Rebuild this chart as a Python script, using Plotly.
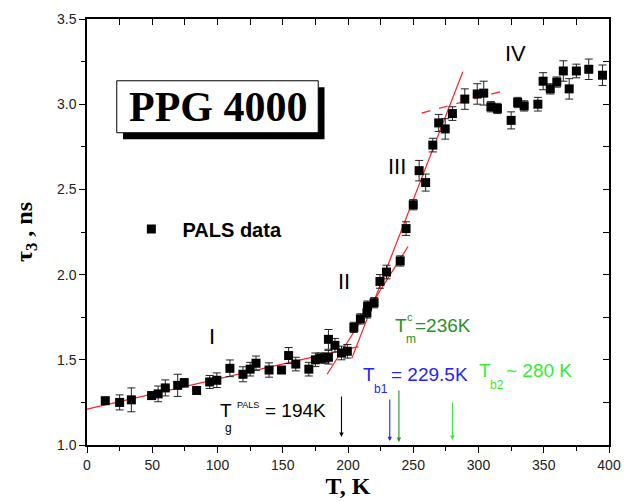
import plotly.graph_objects as go

# ---------------- data ----------------
temperature_K = [14, 25, 34, 49.5, 54.5, 60, 69.5, 74.5, 84, 94, 99.5, 109.5, 119.5, 125, 129.5,
                 139.5, 149, 154.5, 160, 170, 175, 179, 182.5, 185, 185, 190, 195, 199.5, 204.5,
                 209.5, 214.5, 215, 220, 224.5, 229.5, 240, 244.5, 250, 254.5, 259.5, 265, 269.5,
                 274.5, 280, 289.5, 299, 304, 309.5, 314.5, 325, 330, 335, 345.5, 349.5, 355,
                 360, 365, 369.5, 375, 384.5, 395]
tau3_ns = [1.26, 1.25, 1.265, 1.29, 1.30, 1.335, 1.35, 1.365, 1.32, 1.37, 1.38, 1.45, 1.415, 1.445,
           1.48, 1.44, 1.44, 1.525, 1.475, 1.445, 1.50, 1.51, 1.51, 1.515, 1.62, 1.585, 1.54, 1.55,
           1.69, 1.74, 1.775, 1.815, 1.835, 1.96, 2.015, 2.08, 2.27, 2.41, 2.61, 2.54, 2.76, 2.89,
           2.855, 2.945, 3.03, 3.06, 3.065, 2.985, 2.975, 2.905, 3.01, 2.99, 3.00, 3.135, 3.09,
           3.13, 3.195, 3.09, 3.195, 3.205, 3.17]
tau3_err = [0.02, 0.044, 0.07, 0.02, 0.046, 0.047, 0.065, 0.025, 0.0, 0.038, 0.043, 0.049, 0.044,
            0.04, 0.042, 0.042, 0.02, 0.047, 0.04, 0.04, 0.04, 0.03, 0.03, 0.04, 0.058, 0.04, 0.04,
            0.04, 0.03, 0.03, 0.03, 0.03, 0.03, 0.04, 0.04, 0.03, 0.04, 0.03, 0.06, 0.05, 0.04,
            0.05, 0.06, 0.04, 0.06, 0.06, 0.07, 0.03, 0.03, 0.05, 0.03, 0.03, 0.04, 0.05, 0.03,
            0.03, 0.06, 0.06, 0.04, 0.06, 0.06]

# linear fits (segment end points, T in K, tau in ns)
fit_I_T, fit_I_tau = [0, 208], [1.211, 1.577]
fit_II_T, fit_II_tau = [184, 246], [1.415, 2.165]
fit_III_T, fit_III_tau = [203, 288], [1.51, 3.19]
fit_IV_T, fit_IV_tau = [256.5, 318.5], [2.948, 3.077]

# characteristic temperatures (arrows)
arrow_T = [195, 232, 239, 280]
arrow_tail = [1.293, 1.276, 1.329, 1.258]
arrow_head = [1.047, 1.023, 1.018, 1.030]
arrow_colors = ["black", "#2323ff", "#2a8f2a", "#33ee33"]

region_labels = ["I", "II", "III", "IV"]
region_T = [95.8, 197, 237.5, 328.7]
region_tau = [1.634, 1.962, 2.636, 3.300]

x_ticks = [0, 50, 100, 150, 200, 250, 300, 350, 400]
y_ticks = [1.0, 1.5, 2.0, 2.5, 3.0, 3.5]

SANS = "Liberation Sans, Arial, sans-serif"
SERIF = "Liberation Serif, Times New Roman, serif"

fig = go.Figure()

for tx, ty, dash in [(fit_I_T, fit_I_tau, "solid"), (fit_II_T, fit_II_tau, "solid"),
                     (fit_III_T, fit_III_tau, "solid"), (fit_IV_T, fit_IV_tau, "dash")]:
    fig.add_trace(go.Scatter(x=tx, y=ty, mode="lines", showlegend=False, hoverinfo="skip",
                             line=dict(color="#ff2020", width=1.2, dash=dash)))

fig.add_trace(go.Scatter(
    x=temperature_K, y=tau3_ns, mode="markers", name="&nbsp;&nbsp;<b>PALS data</b>",
    marker=dict(symbol="square", size=9, color="black"),
    error_y=dict(type="data", array=tau3_err, visible=True, color="#222", thickness=1, width=4),
))

# empty trace to activate top/right mirror axes
fig.add_trace(go.Scatter(x=[], y=[], xaxis="x2", yaxis="y2", showlegend=False, hoverinfo="skip"))

annotations = []
for lab, t, v in zip(region_labels, region_T, region_tau):
    annotations.append(dict(x=t, y=v, text=lab, showarrow=False, xref="x", yref="y",
                            xanchor="center", yanchor="middle",
                            font=dict(family=SANS, size=22, color="black")))

for t, a0, a1, c in zip(arrow_T, arrow_tail, arrow_head, arrow_colors):
    annotations.append(dict(x=t, y=a1, ax=t, ay=a0, xref="x", yref="y", axref="x", ayref="y",
                            text="", showarrow=True, arrowhead=2, arrowsize=0.8,
                            arrowwidth=1.1, arrowcolor=c))


def piece(t, v, text, size, color):
    annotations.append(dict(x=t, y=v, text=text, showarrow=False, xref="x", yref="y",
                            xanchor="left", yanchor="middle", borderpad=0,
                            font=dict(family=SANS, size=size, color=color)))


# T_g^PALS = 194K
piece(101.0, 1.205, "T", 19, "black")
piece(105.0, 1.100, "g", 12, "black")
piece(114.0, 1.232, "PALS", 9, "black")
piece(135.5, 1.200, "= 194K", 19, "black")
# T_m^c = 236K
piece(235.2, 1.704, "T", 19, "#2a8f2a")
piece(244.5, 1.752, "c", 11, "#2a8f2a")
piece(244.0, 1.620, "m", 12, "#2a8f2a")
piece(250.6, 1.704, "=236K", 19, "#2a8f2a")
# T_b1 = 229.5K
piece(210.7, 1.411, "T", 19, "#2323ff")
piece(219.0, 1.330, "b1", 12, "#2323ff")
piece(232.2, 1.411, "= 229.5K", 19, "#2323ff")
# T_b2 ~ 280 K
piece(299.6, 1.440, "T", 19, "#33ee33")
piece(307.8, 1.355, "b2", 12, "#33ee33")
piece(320.3, 1.440, "~ 280 K", 19, "#33ee33")

# PPG 4000 title box
annotations.append(dict(x=0.251, y=0.794, xref="paper", yref="paper", text="<b>PPG 4000</b>",
                        xanchor="center", yanchor="middle",
                        showarrow=False, font=dict(family=SERIF, size=42, color="black")))

shapes = [
    dict(type="rect", xref="paper", yref="paper", x0=0.069, x1=0.455, y0=0.718, y1=0.840,
         fillcolor="black", line=dict(width=0), layer="above"),
    dict(type="rect", xref="paper", yref="paper", x0=0.057, x1=0.443, y0=0.733, y1=0.855,
         fillcolor="white", line=dict(color="black", width=1), layer="above"),
]

axis_common = dict(showgrid=False, zeroline=False, showline=True, linecolor="black", linewidth=1.5,
                   tickcolor="black", tickwidth=1.2, automargin=False)

fig.update_layout(
    width=633, height=502,
    margin=dict(l=87, r=24, t=19, b=57),
    paper_bgcolor="white", plot_bgcolor="white",
    showlegend=True,
    legend=dict(x=0.085, y=0.507, xanchor="left", yanchor="middle", bgcolor="rgba(0,0,0,0)",
                font=dict(family=SANS, size=20, color="black"), itemwidth=30),
    annotations=annotations,
    shapes=shapes,
    xaxis=dict(range=[0, 400], tickvals=x_ticks, ticks="outside", ticklen=6,
               minor=dict(dtick=25, tick0=0, ticks="outside", ticklen=4, tickcolor="black"),
               tickfont=dict(family=SANS, size=14, color="#222"),
               title=dict(text="<b>T, K</b>", font=dict(family=SERIF, size=24, color="black"),
                          standoff=6),
               **axis_common),
    yaxis=dict(range=[1.0, 3.5], tickvals=y_ticks, tickformat=".1f", ticks="outside", ticklen=6,
               minor=dict(dtick=0.25, tick0=1.0, ticks="outside", ticklen=4, tickcolor="black"),
               tickfont=dict(family=SANS, size=14, color="#222"),
               title=dict(text="<b>τ<sub>3</sub> , ns</b>", font=dict(family=SERIF, size=24, color="black"),
                          standoff=18),
               **axis_common),
    xaxis2=dict(range=[0, 400], overlaying="x", side="top", tickvals=x_ticks, ticks="inside",
                ticklen=6, showticklabels=False,
                minor=dict(dtick=25, tick0=0, ticks="inside", ticklen=6, tickcolor="black"),
                **axis_common),
    yaxis2=dict(range=[1.0, 3.5], overlaying="y", side="right", tickvals=y_ticks, ticks="inside",
                ticklen=6, showticklabels=False,
                minor=dict(dtick=0.25, tick0=1.0, ticks="inside", ticklen=6, tickcolor="black"),
                **axis_common),
)

fig.write_html("out.html", config={"displayModeBar": False},
               post_script="document.body.style.margin='0';document.body.style.overflow='hidden';")
